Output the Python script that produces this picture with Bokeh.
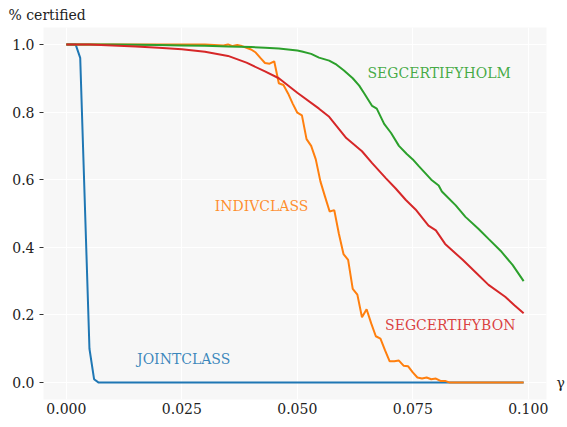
from bokeh.plotting import figure
from bokeh.models import Range1d, Label, FixedTicker, LinearAxis
from bokeh.embed import file_html
from bokeh.resources import INLINE

# ---------------- data ----------------
x_ticks = [0.0, 0.025, 0.05, 0.075, 0.1]
x_tick_labels = ["0.000", "0.025", "0.050", "0.075", "0.100"]
y_ticks = [0.0, 0.2, 0.4, 0.6, 0.8, 1.0]
y_tick_labels = ["0.0", "0.2", "0.4", "0.6", "0.8", "1.0"]

joint_x = [0.000, 0.001, 0.002, 0.003, 0.005, 0.006, 0.007, 0.099]
joint_y = [1.0, 1.0, 1.0, 0.96, 0.10, 0.01, 0.0, 0.0]

indiv_x = [0.000, 0.030, 0.034, 0.035, 0.036, 0.037, 0.038, 0.039, 0.040, 0.041,
           0.042, 0.043, 0.044, 0.045, 0.046, 0.047, 0.048, 0.049, 0.050, 0.051,
           0.052, 0.053, 0.054, 0.055, 0.056, 0.057, 0.058, 0.059, 0.060, 0.061,
           0.062, 0.063, 0.064, 0.065, 0.066, 0.067, 0.068, 0.069, 0.070, 0.071,
           0.072, 0.073, 0.074, 0.075, 0.076, 0.077, 0.078, 0.079, 0.080, 0.081,
           0.082, 0.083, 0.099]
indiv_y = [1.0, 1.0, 0.997, 1.0, 0.995, 0.998, 0.995, 0.99, 0.985, 0.976,
           0.96, 0.945, 0.943, 0.95, 0.885, 0.88, 0.855, 0.825, 0.798, 0.79,
           0.72, 0.70, 0.66, 0.595, 0.55, 0.506, 0.51, 0.44, 0.38, 0.363,
           0.277, 0.26, 0.193, 0.217, 0.175, 0.137, 0.13, 0.095, 0.063, 0.063,
           0.065, 0.05, 0.048, 0.03, 0.015, 0.012, 0.015, 0.01, 0.012, 0.005,
           0.005, 0.0, 0.0]

holm_x = [0.000, 0.010, 0.020, 0.025, 0.030, 0.035, 0.040, 0.043, 0.046, 0.048,
          0.050, 0.051, 0.053, 0.0547, 0.0569, 0.0585, 0.0601, 0.062, 0.0634, 0.0644,
          0.0662, 0.0672, 0.0688, 0.0703, 0.072, 0.0737, 0.075, 0.0763, 0.078, 0.079,
          0.0806, 0.0813, 0.0843, 0.0864, 0.0892, 0.0914, 0.094, 0.0966, 0.099]
holm_y = [1.0, 1.0, 0.998, 0.997, 0.996, 0.994, 0.992, 0.99, 0.988, 0.985,
          0.982, 0.979, 0.972, 0.961, 0.952, 0.94, 0.923, 0.90, 0.878, 0.857,
          0.818, 0.81, 0.765, 0.738, 0.70, 0.676, 0.66, 0.64, 0.615, 0.60,
          0.583, 0.565, 0.524, 0.49, 0.455, 0.425, 0.39, 0.348, 0.30]

bon_x = [0.000, 0.005, 0.010, 0.015, 0.020, 0.025, 0.030, 0.035, 0.039, 0.043,
         0.046, 0.050, 0.0547, 0.0569, 0.0606, 0.064, 0.0662, 0.0692, 0.0713, 0.0735,
         0.0756, 0.0784, 0.080, 0.082, 0.0858, 0.0892, 0.0914, 0.095, 0.097, 0.099]
bon_y = [1.0, 1.0, 0.997, 0.994, 0.99, 0.986, 0.978, 0.966, 0.946, 0.92,
         0.90, 0.857, 0.81, 0.786, 0.723, 0.684, 0.649, 0.604, 0.574, 0.54,
         0.512, 0.464, 0.45, 0.41, 0.363, 0.318, 0.289, 0.254, 0.229, 0.205]

series_names = ["JOINTCLASS", "INDIVCLASS", "SEGCERTIFYHOLM", "SEGCERTIFYBON"]
series_colors = ["#1f77b4", "#ff7f0e", "#2ca02c", "#d62728"]

# ---------------- figure ----------------
FONT = "DejaVu Serif"
p = figure(width=567, height=427, output_backend="svg", toolbar_location=None,
           x_range=Range1d(-0.00495, 0.10395), y_range=Range1d(-0.05, 1.05),
           min_border_left=43, min_border_right=18, min_border_top=26,
           min_border_bottom=28)
p.background_fill_color = "#f7f7f7"
p.border_fill_color = "white"
p.outline_line_color = None

p.title.text = "% certified"
p.title.text_font = FONT
p.title.text_font_size = "14px"
p.title.text_font_style = "normal"
p.title.text_color = "#222222"
p.title.align = "left"
p.title.offset = -35
p.title.standoff = 9

for g in (p.xgrid, p.ygrid):
    g.grid_line_color = "white"
    g.grid_line_width = 1.2
p.xgrid.ticker = FixedTicker(ticks=x_ticks)
p.ygrid.ticker = FixedTicker(ticks=y_ticks)

p.xaxis.ticker = FixedTicker(ticks=x_ticks)
p.xaxis.major_label_overrides = dict(zip(x_ticks, x_tick_labels))
p.yaxis.ticker = FixedTicker(ticks=y_ticks)
p.yaxis.major_label_overrides = dict(zip(y_ticks, y_tick_labels))

# right-hand axis carrying only the gamma symbol at the 0.0 level
gamma_axis = LinearAxis(ticker=FixedTicker(ticks=[0.0]),
                        major_label_overrides={0.0: "γ"})
p.add_layout(gamma_axis, "right")

for ax in (p.xaxis[0], p.yaxis[0], gamma_axis):
    ax.axis_line_color = None
    ax.minor_tick_line_color = None
    ax.major_label_text_font = FONT
    ax.major_label_text_font_size = "14px"
    ax.major_label_text_color = "#222222"
    ax.major_tick_line_color = "#333333"
    ax.major_tick_in = 0
p.xaxis.major_tick_out = 0
p.xaxis.major_label_standoff = 3
p.yaxis[0].major_tick_out = 4
p.yaxis[0].major_label_standoff = 5
gamma_axis.major_tick_out = 0
gamma_axis.major_tick_line_color = None
gamma_axis.major_label_standoff = 10

# ---------------- lines ----------------
all_x = [joint_x, indiv_x, holm_x, bon_x]
all_y = [joint_y, indiv_y, holm_y, bon_y]
for xs, ys, c in zip(all_x, all_y, series_colors):
    p.line(xs, ys, line_color=c, line_width=2)

# ---------------- annotations ----------------
label_pos = [(0.0153, 0.0686), (0.0321, 0.522), (0.0652, 0.914), (0.069, 0.169)]
for (lx, ly), name, c in zip(label_pos, series_names, series_colors):
    p.add_layout(Label(x=lx, y=ly, text=name, text_color=c, text_alpha=0.88,
                       text_font=FONT, text_font_size="14px",
                       text_align="left", text_baseline="middle"))

open("out.html", "w").write(file_html(p, INLINE))
